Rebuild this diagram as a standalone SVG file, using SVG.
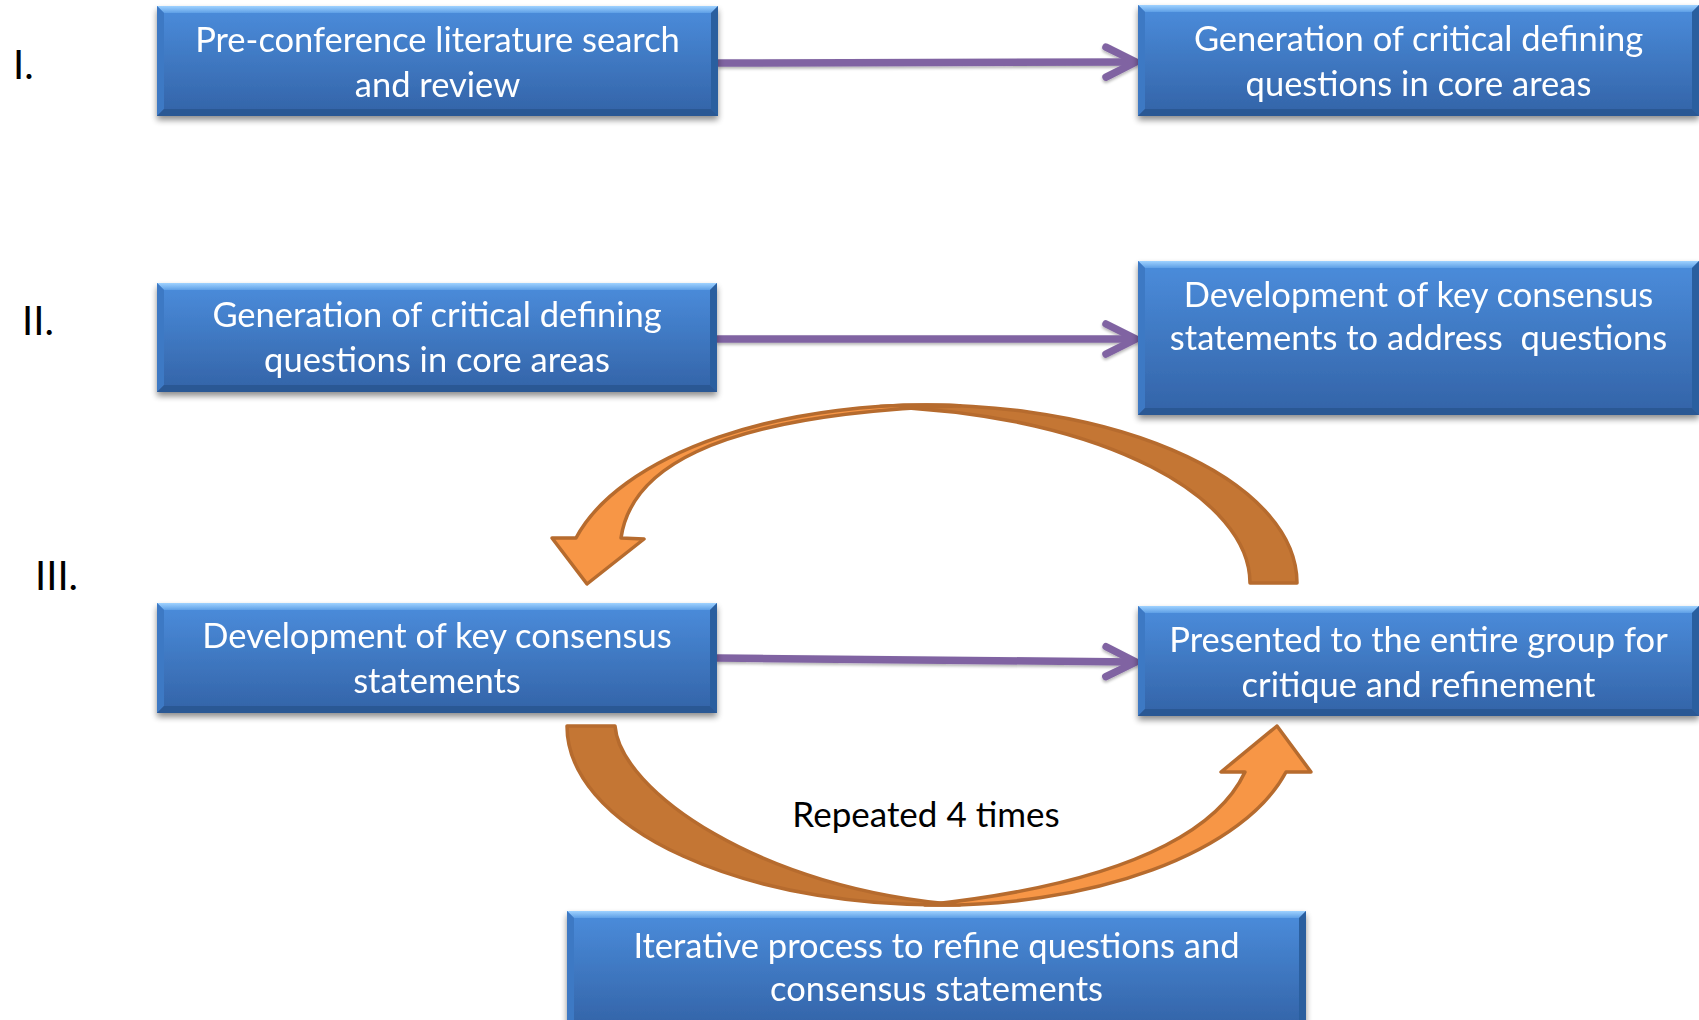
<svg xmlns="http://www.w3.org/2000/svg" width="1699" height="1020" viewBox="0 0 1699 1020">
<defs>
<style>
.body{fill:url(#bg);}
.bt{fill:url(#btop);}
.bl{fill:#3D79C4;}
.br{fill:#2C5E9F;}
.bb{fill:#2A5894;}
.lbl{font-family:Lato,"Liberation Sans",sans-serif;font-size:34.5px;fill:#fff;text-anchor:middle;}
.num{font-family:Lato,"Liberation Sans",sans-serif;font-size:40px;fill:#000;}
.rep{font-family:Lato,"Liberation Sans",sans-serif;font-size:35px;fill:#000;text-anchor:middle;}
.conn{stroke:#8064A2;stroke-width:7.5;fill:none;marker-end:url(#chev);}
.dark{fill:#C47634;stroke:#B66B2E;stroke-width:3.5;stroke-linejoin:round;}
.light{fill:#F79646;stroke:#B66B2E;stroke-width:3.5;stroke-linejoin:round;}
</style>
<linearGradient id="bg" x1="0" y1="0" x2="0" y2="1">
<stop offset="0" stop-color="#4B8DDC"/>
<stop offset="1" stop-color="#3363A7"/>
</linearGradient>
<linearGradient id="btop" x1="0" y1="0" x2="0" y2="1">
<stop offset="0" stop-color="#9FD2FF"/>
<stop offset="1" stop-color="#5E9FE6"/>
</linearGradient>
<filter id="sh" x="-5%" y="-10%" width="110%" height="130%">
<feGaussianBlur in="SourceAlpha" stdDeviation="3"/>
<feOffset dx="0" dy="4" result="b"/>
<feComponentTransfer><feFuncA type="linear" slope="0.45"/></feComponentTransfer>
<feMerge><feMergeNode/><feMergeNode in="SourceGraphic"/></feMerge>
</filter>
<filter id="sh2" x="-5%" y="-50%" width="110%" height="200%">
<feGaussianBlur in="SourceAlpha" stdDeviation="1.5"/>
<feOffset dx="0" dy="2" result="b"/>
<feComponentTransfer><feFuncA type="linear" slope="0.3"/></feComponentTransfer>
<feMerge><feMergeNode/><feMergeNode in="SourceGraphic"/></feMerge>
</filter>
<marker id="chev" viewBox="0 0 32 32" refX="31" refY="16" markerWidth="32" markerHeight="32" markerUnits="userSpaceOnUse" orient="auto" overflow="visible">
<path d="M1,1 L31,16 L1,31" fill="none" stroke="#8064A2" stroke-width="7.5" stroke-linecap="round" stroke-linejoin="round"/>
</marker>
</defs>
<rect width="1699" height="1020" fill="#fff"/>

<g id="labels">
<text class="num" x="13" y="79">I.</text>
<text class="num" x="22" y="335">II.</text>
<text class="num" x="35" y="590">III.</text>
</g>

<g id="connectors" filter="url(#sh2)">
<path class="conn" d="M718,63 L1136,62"/>
<path class="conn" d="M717,339 L1136,339"/>
<path class="conn" d="M717,658 L1136,662"/>
</g>

<g id="loop-upper">
<path class="dark" d="M880,406.4 A371,178 0 0 1 1297,583 L1250,583 C1250,500 1110,415 880,406.4 Z"/>
<path class="light" d="M960,405.8 A362,178 0 0 0 576,538 L552,538 L587,584 L644,539 L621,538 C630,475 700,415 960,405.8 Z"/>
</g>
<g id="loop-lower">
<path class="dark" d="M567,726 A371,179 0 0 0 960,904.7 C760,890 620,790 615,726 Z"/>
<path class="light" d="M925,905 A360,179 0 0 0 1286,772 L1311,772 L1277,726 L1221,772 L1245,772 C1225,815 1160,880 925,905 Z"/>
</g>

<g id="box1" filter="url(#sh)">
<rect class="body" x="157" y="6" width="561" height="110"/>
<polygon class="bt" points="157,6 718,6 711,13 164,13"/>
<polygon class="bl" points="157,6 164,13 164,109 157,116"/>
<polygon class="br" points="718,6 718,116 711,109 711,13"/>
<polygon class="bb" points="157,116 164,109 711,109 718,116"/>
<text class="lbl" x="437.5" y="52">Pre-conference literature search</text>
<text class="lbl" x="437.5" y="97">and review</text>
</g>

<g id="box2" filter="url(#sh)">
<rect class="body" x="1138" y="5" width="561" height="111"/>
<polygon class="bt" points="1138,5 1699,5 1692,12 1145,12"/>
<polygon class="bl" points="1138,5 1145,12 1145,109 1138,116"/>
<polygon class="br" points="1699,5 1699,116 1692,109 1692,12"/>
<polygon class="bb" points="1138,116 1145,109 1692,109 1699,116"/>
<text class="lbl" x="1418.5" y="51">Generation of critical defining</text>
<text class="lbl" x="1418.5" y="96">questions in core areas</text>
</g>

<g id="box3" filter="url(#sh)">
<rect class="body" x="157" y="283" width="560" height="109"/>
<polygon class="bt" points="157,283 717,283 710,290 164,290"/>
<polygon class="bl" points="157,283 164,290 164,385 157,392"/>
<polygon class="br" points="717,283 717,392 710,385 710,290"/>
<polygon class="bb" points="157,392 164,385 710,385 717,392"/>
<text class="lbl" x="437" y="327">Generation of critical defining</text>
<text class="lbl" x="437" y="372">questions in core areas</text>
</g>

<g id="box4" filter="url(#sh)">
<rect class="body" x="1138" y="261" width="561" height="154"/>
<polygon class="bt" points="1138,261 1699,261 1692,268 1145,268"/>
<polygon class="bl" points="1138,261 1145,268 1145,408 1138,415"/>
<polygon class="br" points="1699,261 1699,415 1692,408 1692,268"/>
<polygon class="bb" points="1138,415 1145,408 1692,408 1699,415"/>
<text class="lbl" x="1418.5" y="307">Development of key consensus</text>
<text class="lbl" x="1418.5" y="350" xml:space="preserve">statements to address  questions</text>
</g>

<g id="box5" filter="url(#sh)">
<rect class="body" x="157" y="603" width="560" height="110"/>
<polygon class="bt" points="157,603 717,603 710,610 164,610"/>
<polygon class="bl" points="157,603 164,610 164,706 157,713"/>
<polygon class="br" points="717,603 717,713 710,706 710,610"/>
<polygon class="bb" points="157,713 164,706 710,706 717,713"/>
<text class="lbl" x="437" y="648">Development of key consensus</text>
<text class="lbl" x="437" y="693">statements</text>
</g>

<g id="box6" filter="url(#sh)">
<rect class="body" x="1138" y="606" width="561" height="110"/>
<polygon class="bt" points="1138,606 1699,606 1692,613 1145,613"/>
<polygon class="bl" points="1138,606 1145,613 1145,709 1138,716"/>
<polygon class="br" points="1699,606 1699,716 1692,709 1692,613"/>
<polygon class="bb" points="1138,716 1145,709 1692,709 1699,716"/>
<text class="lbl" x="1418.5" y="652">Presented to the entire group for</text>
<text class="lbl" x="1418.5" y="697">critique and refinement</text>
</g>

<g id="box7" filter="url(#sh)">
<rect class="body" x="567" y="911" width="739" height="118"/>
<polygon class="bt" points="567,911 1306,911 1299,918 574,918"/>
<polygon class="bl" points="567,911 574,918 574,1029 567,1029"/>
<polygon class="br" points="1306,911 1306,1029 1299,1029 1299,918"/>
<text class="lbl" x="936.5" y="958">Iterative process to refine questions and</text>
<text class="lbl" x="936.5" y="1001">consensus statements</text>
</g>

<text class="rep" x="926" y="827">Repeated 4 times</text>
</svg>
